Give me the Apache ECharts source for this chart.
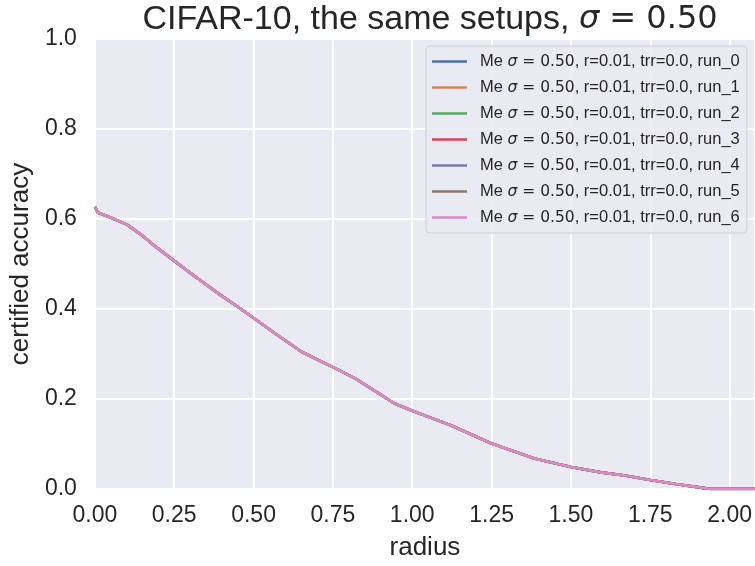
<!DOCTYPE html>
<html>
<head>
<meta charset="utf-8">
<script src="https://cdn.jsdelivr.net/npm/echarts@6/dist/echarts.min.js"></script>
<style>
  html, body { margin: 0; padding: 0; background: #fff; }
  #chart { width: 755px; height: 566px; }
</style>
</head>
<body>
<div id="chart"></div>
<script>
// radius values (x) and certified accuracy (y)
const radius = [0, 0.01, 0.04, 0.1, 0.15, 0.185, 0.25, 0.32, 0.394, 0.45, 0.5, 0.567, 0.651, 0.75, 0.82, 0.882, 0.944, 1.0, 1.06, 1.123, 1.19, 1.25, 1.385, 1.5, 1.594, 1.67, 1.75, 1.83, 1.909, 1.94, 2.0, 2.1];
const accuracy = [0.627, 0.614, 0.606, 0.588, 0.563, 0.542, 0.507, 0.470, 0.432, 0.405, 0.380, 0.346, 0.305, 0.271, 0.246, 0.218, 0.190, 0.174, 0.158, 0.141, 0.120, 0.101, 0.068, 0.049, 0.037, 0.030, 0.020, 0.011, 0.003, 0.0, 0.0, 0.0];
// all seven runs lie on top of each other
const runs = ["run_0", "run_1", "run_2", "run_3", "run_4", "run_5", "run_6"];
const colors = ["#4C72B0", "#DD8452", "#55A868", "#C44E52", "#8172B3", "#937860", "#DA8BC3"];
const xTicks = [0, 0.25, 0.5, 0.75, 1.0, 1.25, 1.5, 1.75, 2.0];
const yTicks = [0, 0.2, 0.4, 0.6, 0.8, 1.0];

const font = "'Liberation Sans', Arial, sans-serif";
const mathFont = "'DejaVu Sans', sans-serif";

const series = runs.map((run, i) => ({
  name: run,
  type: "line",
  data: radius.map((r, k) => [r, accuracy[k]]),
  showSymbol: false,
  symbol: "none",
  lineStyle: { color: colors[i], width: 2.6 },
  itemStyle: { color: colors[i] },
  animation: false
}));

const option = {
  backgroundColor: "#ffffff",
  animation: false,
  title: {
    text: "CIFAR-10, the same setups, {s|σ}{m| = 0.50}",
    left: 425,
    textAlign: "center",
    top: -2,
    textStyle: {
      fontFamily: font,
      fontSize: 34,
      fontWeight: "normal",
      color: "#262626",
      rich: {
        s: { fontFamily: mathFont, fontStyle: "italic", fontSize: 32, color: "#262626" },
        m: { fontFamily: mathFont, fontSize: 32, color: "#262626" }
      }
    }
  },
  grid: { left: 93, top: 39, right: 0, bottom: 72, show: true, backgroundColor: "#EAEAF2", borderWidth: 0 },
  legend: {
    orient: "vertical",
    left: 426,
    top: 46,
    padding: [7, 7, 7, 6],
    itemGap: 9,
    itemWidth: 35,
    itemHeight: 14,
    icon: "path://M0,6 L35,6 L35,8.5 L0,8.5 Z",
    backgroundColor: "rgba(234,234,242,0.85)",
    borderColor: "#CFCFD6",
    borderWidth: 1,
    borderRadius: 4,
    data: runs,
    formatter: name => "Me {s|σ}{m| = 0.50}, r=0.01, trr=0.0, " + name,
    textStyle: {
      fontFamily: font,
      fontSize: 16.5,
      color: "#262626",
      padding: [0, 0, 0, 8],
      rich: {
        s: { fontFamily: mathFont, fontStyle: "italic", fontSize: 15.5, color: "#262626" },
        m: { fontFamily: mathFont, fontSize: 15.5, color: "#262626" }
      }
    }
  },
  xAxis: {
    type: "value",
    min: 0,
    max: 2.08,
    interval: 0.25,
    name: "radius",
    nameLocation: "middle",
    nameGap: 46,
    nameTextStyle: { fontFamily: font, fontSize: 26, color: "#262626" },
    axisLine: { show: false },
    axisTick: { show: false },
    axisLabel: {
      fontFamily: font, fontSize: 23, color: "#262626", margin: 15,
      showMaxLabel: false,
      formatter: v => (xTicks.some(t => Math.abs(t - v) < 1e-9) ? v.toFixed(2) : "")
    },
    splitLine: { show: true, lineStyle: { color: "#ffffff", width: 2 } }
  },
  yAxis: {
    type: "value",
    min: 0,
    max: 1,
    interval: 0.2,
    name: "certified accuracy",
    nameLocation: "middle",
    nameGap: 60,
    nameTextStyle: { fontFamily: font, fontSize: 26, color: "#262626" },
    axisLine: { show: false },
    axisTick: { show: false },
    axisLabel: {
      fontFamily: font, fontSize: 23, color: "#262626", margin: 18,
      formatter: v => (yTicks.some(t => Math.abs(t - v) < 1e-9) ? v.toFixed(1) : "")
    },
    splitLine: { show: true, lineStyle: { color: "#ffffff", width: 2 } }
  },
  series: series
};

const myChart = echarts.init(document.getElementById("chart"), null, { renderer: "canvas" });
myChart.setOption(option);
</script>
</body>
</html>
